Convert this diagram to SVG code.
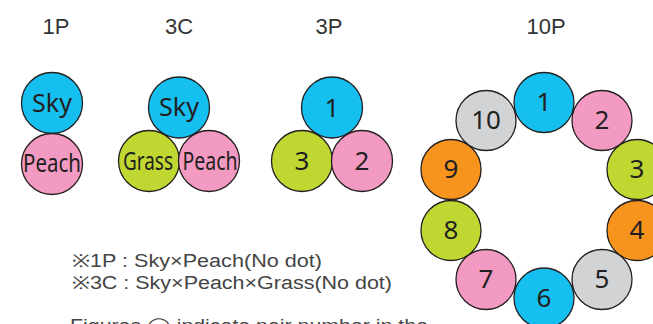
<svg xmlns="http://www.w3.org/2000/svg" width="653" height="324" viewBox="0 0 653 324">
<style>
.c{stroke:#231f20;stroke-width:1.3}
.sky{fill:#15c0f0}.peach{fill:#f39ac2}.grass{fill:#bfd730}.orange{fill:#f7941d}.gray{fill:#d1d3d4}
.t{font-family:"Noto Sans","DejaVu Sans",sans-serif;font-size:25px;fill:#231f20;text-anchor:middle}
.n{font-family:"Noto Sans","DejaVu Sans",sans-serif;font-size:26px;fill:#231f20;text-anchor:middle}
.h{font-family:"Liberation Sans",Arial,sans-serif;font-size:22px;fill:#333;text-anchor:middle}
.note{font-family:"Liberation Sans",Arial,sans-serif;font-size:18px;fill:#444}
</style>
<g id="titles">
<text class="h" x="56" y="34">1P</text>
<text class="h" x="179" y="34">3C</text>
<text class="h" x="329" y="34">3P</text>
<text class="h" x="546" y="34">10P</text>
</g>
<g id="g1P">
<circle class="c sky" cx="52" cy="103" r="30.5"/>
<text class="t" x="52" y="112" textLength="40" lengthAdjust="spacingAndGlyphs">Sky</text>
<circle class="c peach" cx="52" cy="164" r="30.5"/>
<text class="t" x="52" y="172" textLength="58" lengthAdjust="spacingAndGlyphs">Peach</text>
</g>
<g id="g3C">
<circle class="c sky" cx="179" cy="107.5" r="30.5"/>
<text class="t" x="179" y="116" textLength="40" lengthAdjust="spacingAndGlyphs">Sky</text>
<circle class="c grass" cx="149" cy="161" r="30.5"/>
<text class="t" x="148" y="170" textLength="50" lengthAdjust="spacingAndGlyphs">Grass</text>
<circle class="c peach" cx="209" cy="161" r="30.5"/>
<text class="t" x="210" y="170" textLength="55" lengthAdjust="spacingAndGlyphs">Peach</text>
</g>
<g id="g3P">
<circle class="c sky" cx="332" cy="107.5" r="30.5"/>
<text class="n" x="332" y="117">1</text>
<circle class="c grass" cx="302" cy="161" r="30.5"/>
<text class="n" x="302" y="170">3</text>
<circle class="c peach" cx="362" cy="161" r="30.5"/>
<text class="n" x="362" y="170">2</text>
</g>
<g id="g10P">
<circle class="c sky" cx="544" cy="102.5" r="30"/>
<text class="n" x="544" y="111">1</text>
<circle class="c peach" cx="602" cy="120.5" r="30"/>
<text class="n" x="602" y="129">2</text>
<circle class="c grass" cx="637" cy="169.5" r="30"/>
<text class="n" x="637" y="178">3</text>
<circle class="c orange" cx="637" cy="230.5" r="30"/>
<text class="n" x="637" y="239">4</text>
<circle class="c gray" cx="602" cy="279.5" r="30"/>
<text class="n" x="602" y="288">5</text>
<circle class="c sky" cx="544" cy="298" r="30"/>
<text class="n" x="544" y="307">6</text>
<circle class="c peach" cx="486" cy="279.5" r="30"/>
<text class="n" x="486" y="288">7</text>
<circle class="c grass" cx="451" cy="230.5" r="30"/>
<text class="n" x="451" y="239">8</text>
<circle class="c orange" cx="451" cy="169.5" r="30"/>
<text class="n" x="451" y="178">9</text>
<circle class="c gray" cx="486" cy="120.5" r="30"/>
<text class="n" x="486" y="129">10</text>
</g>
<g id="notes">
<text class="note" x="72" y="267" textLength="250" lengthAdjust="spacingAndGlyphs">※1P : Sky×Peach(No dot)</text>
<text class="note" x="72" y="289" textLength="320" lengthAdjust="spacingAndGlyphs">※3C : Sky×Peach×Grass(No dot)</text>
<text class="note" x="70" y="332" textLength="358" lengthAdjust="spacingAndGlyphs">Figures ◯ indicate pair number in the</text>
</g>
</svg>
